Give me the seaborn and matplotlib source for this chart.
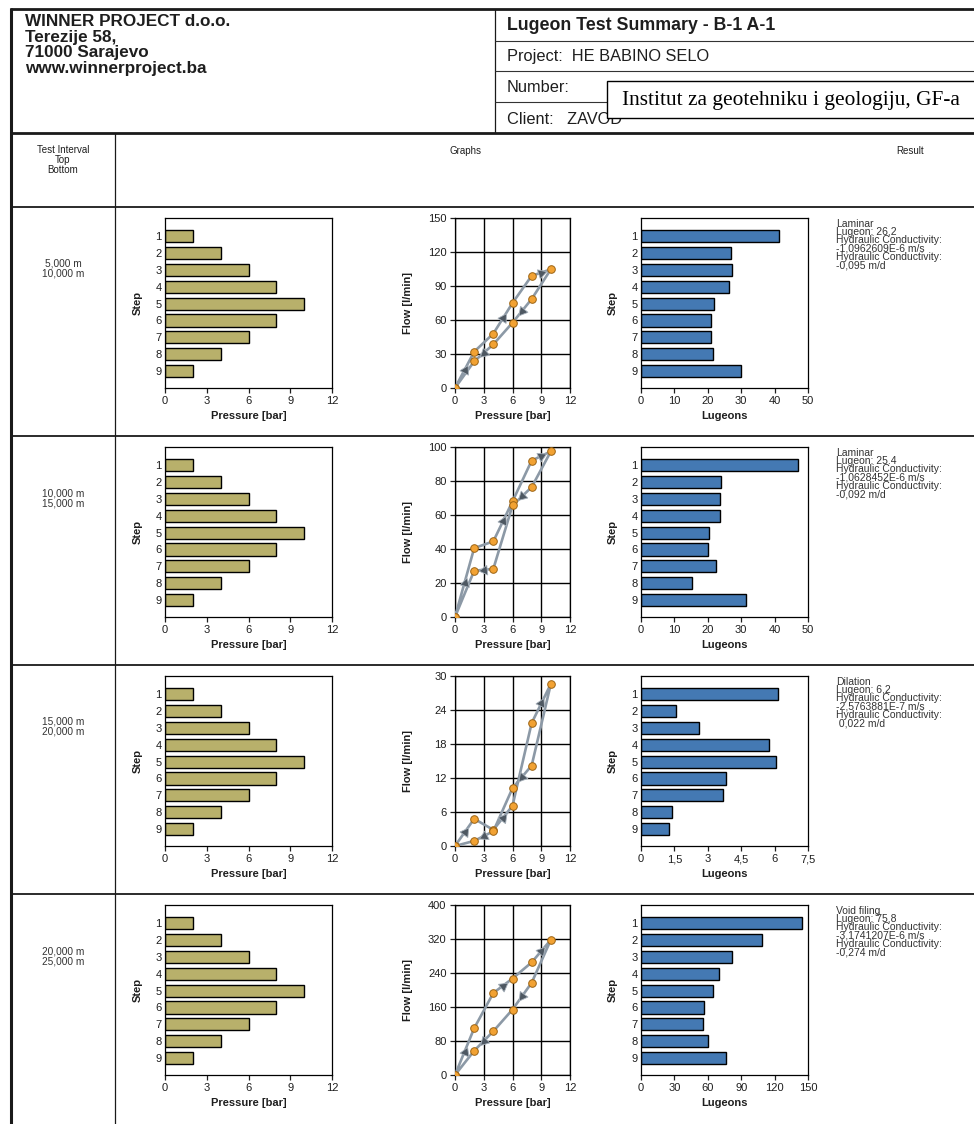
import numpy as np
import pandas as pd
import matplotlib
matplotlib.use("Agg")
import matplotlib.pyplot as plt
from matplotlib.patches import Rectangle
import seaborn as sns

# ---------------------------------------------------------------- data
steps = [1, 2, 3, 4, 5, 6, 7, 8, 9]
pressure_bar = [2, 4, 6, 8, 10, 8, 6, 4, 2]

# flow per step [l/min] for each test interval
flow_1 = [32, 48, 75, 99, 104.7, 78.5, 57.6, 38.5, 23.5]
flow_2 = [40.5, 44.5, 68, 92, 97.4, 76.4, 65.6, 28.3, 27.2]
flow_3 = [4.8, 2.85, 7.1, 21.7, 28.6, 14.2, 10.2, 2.6, 0.9]
flow_4 = [110, 193, 227, 265, 318, 217, 154, 103, 57]

# Lugeon value per step
lugeon_1 = [41.3, 26.8, 27.2, 26.4, 21.8, 21.1, 21.1, 21.5, 30.0]
lugeon_2 = [46.9, 24.1, 23.7, 23.7, 20.3, 20.0, 22.5, 15.3, 31.3]
lugeon_3 = [6.15, 1.56, 2.60, 5.75, 6.05, 3.80, 3.68, 1.38, 1.27]
lugeon_4 = [145, 109, 81.5, 70, 65, 57, 56, 60, 76]

flow_ticks = [
    [0, 30, 60, 90, 120, 150],
    [0, 20, 40, 60, 80, 100],
    [0, 6, 12, 18, 24, 30],
    [0, 80, 160, 240, 320, 400],
]
lugeon_ticks = [
    [0, 10, 20, 30, 40, 50],
    [0, 10, 20, 30, 40, 50],
    [0, 1.5, 3, 4.5, 6, 7.5],
    [0, 30, 60, 90, 120, 150],
]
pressure_ticks = [0, 3, 6, 9, 12]

intervals = [
    ("5,000 m", "10,000 m"),
    ("10,000 m", "15,000 m"),
    ("15,000 m", "20,000 m"),
    ("20,000 m", "25,000 m"),
]

results = [
    ["Laminar", "Lugeon: 26,2", "Hydraulic Conductivity:", "-1,0962609E-6 m/s",
     "Hydraulic Conductivity:", "-0,095 m/d"],
    ["Laminar", "Lugeon: 25.4", "Hydraulic Conductivity:", "-1,0628452E-6 m/s",
     "Hydraulic Conductivity:", "-0,092 m/d"],
    ["Dilation", "Lugeon: 6,2", "Hydraulic Conductivity:", "-2,5763881E-7 m/s",
     "Hydraulic Conductivity:", " 0,022 m/d"],
    ["Void filing", "Lugeon: 75,8", "Hydraulic Conductivity:", "-3,1741207E-6 m/s",
     "Hydraulic Conductivity:", "-0,274 m/d"],
]

company = ["WINNER PROJECT d.o.o.", "Terezije 58,", "71000 Sarajevo",
           "www.winnerproject.ba"]

flows = [flow_1, flow_2, flow_3, flow_4]
lugeons = [lugeon_1, lugeon_2, lugeon_3, lugeon_4]

# ---------------------------------------------------------------- style
sns.set_theme(style="ticks")
plt.rcParams["font.family"] = ["Liberation Sans", "DejaVu Sans"]
plt.rcParams["axes.linewidth"] = 0.8
plt.rcParams["axes.edgecolor"] = "black"

OLIVE = "#B8B06B"
BLUE = "#4479B3"
LINE = "#8C99A6"
DOT = "#F2A233"
DOT_EDGE = "#9C6414"
ARROW = "#4E5862"
TXT = "#1E1E1E"

W, H = 974, 1124
fig = plt.figure(figsize=(W / 100, H / 100), dpi=100)
fig.patch.set_facecolor("white")


def rect(left, top, width, height):
    return [left / W, 1 - (top + height) / H, width / W, height / H]


# ---------------------------------------------------------------- page frame
page = fig.add_axes([0, 0, 1, 1], zorder=0)
page.set_xlim(0, W)
page.set_ylim(H, 0)
page.axis("off")


def hline(y, x0, x1, lw, color="#1a1a1a"):
    page.plot([x0, x1], [y, y], color=color, lw=lw, solid_capstyle="butt")


def vline(x, y0, y1, lw, color="#1a1a1a"):
    page.plot([x, x], [y0, y1], color=color, lw=lw, solid_capstyle="butt")


hline(9, 10, 990, 2.0)
vline(11, 8, H + 5, 2.2)
vline(495, 9, 133, 0.9)
for y in (41, 71, 102):
    hline(y, 495, 990, 0.8, "#333333")
hline(133, 10, 990, 2.0)
vline(115, 133, H + 5, 0.9)
row_tops = [207, 436, 665, 894]
for y in row_tops:
    hline(y, 10, 990, 1.3)

# header texts
page.text(25, 14, "\n".join(company), fontsize=12.3, fontweight="bold",
          va="top", linespacing=1.05, color=TXT)

page.text(507, 26, "Lugeon Test Summary - B-1 A-1", fontsize=12.8, fontweight="bold",
          va="center", color=TXT)
page.text(507, 57, "Project:  HE BABINO SELO", fontsize=11.8, va="center", color=TXT)
page.text(507, 88, "Number:", fontsize=11.8, va="center", color=TXT)
page.text(507, 119, "Client:   ZAVOD", fontsize=11.8, va="center", color=TXT)

page.add_patch(Rectangle((607, 81), 400, 37, facecolor="white", edgecolor="black",
                         lw=1.0, zorder=5))
page.text(622, 100, "Institut za geotehniku i geologiju, GF-a", fontsize=15.4,
          family=["Liberation Serif", "DejaVu Serif"], va="center", zorder=6,
          color="black")

page.text(63, 145, "Test Interval\nTop\nBottom", fontsize=7, ha="center", va="top",
          linespacing=1.0, color=TXT)
page.text(466, 151, "Graphs", fontsize=7, ha="center", va="center", color=TXT)
page.text(910, 151, "Result", fontsize=7, ha="center", va="center", color=TXT)

for i, top in enumerate(row_tops):
    page.text(63, top + 52, "\n".join(intervals[i]), fontsize=7.3, ha="center",
              va="top", linespacing=1.0, color="#333333")
    page.text(836, top + 12, "\n".join(results[i]), fontsize=7.5, va="top",
              linespacing=0.78, color="#333333")

# ---------------------------------------------------------------- charts
AX_H = 170
seq_p = [0] + pressure_bar + [0]


def style_bar_axis(ax):
    for s in ax.spines.values():
        s.set_visible(True)
        s.set_color("black")
        s.set_linewidth(0.9)
    ax.tick_params(axis="y", length=0, pad=2.5, labelsize=8, colors=TXT)
    ax.tick_params(axis="x", length=3.6, width=0.9, pad=2.5, labelsize=8,
                   colors=TXT, direction="out")
    ax.set_ylim(9.0, -1.07)


for i in range(4):
    top = 218 + 229 * i

    # pressure per step
    ax1 = fig.add_axes(rect(165, top, 167, AX_H), zorder=2)
    dfp = pd.DataFrame({"Step": [str(s) for s in steps], "Pressure": pressure_bar})
    sns.barplot(data=dfp, x="Pressure", y="Step", orient="h", color=OLIVE,
                saturation=1, edgecolor="black", linewidth=1.0, width=0.72, ax=ax1)
    style_bar_axis(ax1)
    ax1.set_xlim(0, 12)
    ax1.set_xticks(pressure_ticks)
    ax1.set_xlabel("Pressure [bar]", fontsize=8, fontweight="bold", color=TXT)
    ax1.set_ylabel("Step", fontsize=8, fontweight="bold", color=TXT)
    ax1.xaxis.set_label_coords(0.5, -0.135)
    ax1.yaxis.set_label_coords(-0.135, 0.5)

    # flow vs pressure loop
    ax2 = fig.add_axes(rect(455, top, 115, AX_H), zorder=2)
    seq_q = [0] + flows[i] + [0]
    ymax = flow_ticks[i][-1]
    ax2.set_xlim(0, 12)
    ax2.set_ylim(0, ymax)
    ax2.set_xticks(pressure_ticks)
    ax2.set_yticks(flow_ticks[i])
    ax2.grid(True, color="black", lw=1.0)
    ax2.set_axisbelow(True)
    dff = pd.DataFrame({"Pressure": seq_p, "Flow": seq_q})
    sns.lineplot(data=dff, x="Pressure", y="Flow", sort=False, estimator=None,
                 color=LINE, lw=1.9, ax=ax2, zorder=3)
    sns.scatterplot(data=dff, x="Pressure", y="Flow", color=DOT, edgecolor=DOT_EDGE,
                    linewidth=0.7, s=30, ax=ax2, zorder=5)
    # direction arrows on every second segment of the loop
    sx, sy = 115 / 12, AX_H / ymax
    for k in range(0, len(seq_p) - 1, 2):
        x0, y0, x1, y1 = seq_p[k], seq_q[k], seq_p[k + 1], seq_q[k + 1]
        ang = np.degrees(np.arctan2((y1 - y0) * sy, (x1 - x0) * sx))
        ax2.plot((x0 + x1) / 2, (y0 + y1) / 2, marker=(3, 0, ang - 90), ms=8,
                 color=ARROW, mec="#A7B1BB", mew=0.6, zorder=4, ls="none")
    for s in ax2.spines.values():
        s.set_color("black")
        s.set_linewidth(0.9)
    ax2.tick_params(length=3.6, width=0.9, pad=2.5, labelsize=8, colors=TXT,
                    direction="out")
    ax2.set_xlabel("Pressure [bar]", fontsize=8, fontweight="bold", color=TXT)
    ax2.set_ylabel("Flow [l/min]", fontsize=8, fontweight="bold", color=TXT)
    ax2.xaxis.set_label_coords(0.5, -0.135)
    ax2.yaxis.set_label_coords(-0.365, 0.5)

    # Lugeon per step
    ax3 = fig.add_axes(rect(641, top, 167, AX_H), zorder=2)
    dfl = pd.DataFrame({"Step": [str(s) for s in steps], "Lugeon": lugeons[i]})
    sns.barplot(data=dfl, x="Lugeon", y="Step", orient="h", color=BLUE,
                saturation=1, edgecolor="black", linewidth=1.0, width=0.72, ax=ax3)
    style_bar_axis(ax3)
    ax3.set_xlim(0, lugeon_ticks[i][-1])
    ax3.set_xticks(lugeon_ticks[i])
    ax3.set_xticklabels([("%g" % t).replace(".", ",") for t in lugeon_ticks[i]])
    ax3.set_xlabel("Lugeons", fontsize=8, fontweight="bold", color=TXT)
    ax3.set_ylabel("Step", fontsize=8, fontweight="bold", color=TXT)
    ax3.xaxis.set_label_coords(0.5, -0.135)
    ax3.yaxis.set_label_coords(-0.14, 0.5)

fig.savefig("out.png", dpi=100, facecolor="white")
